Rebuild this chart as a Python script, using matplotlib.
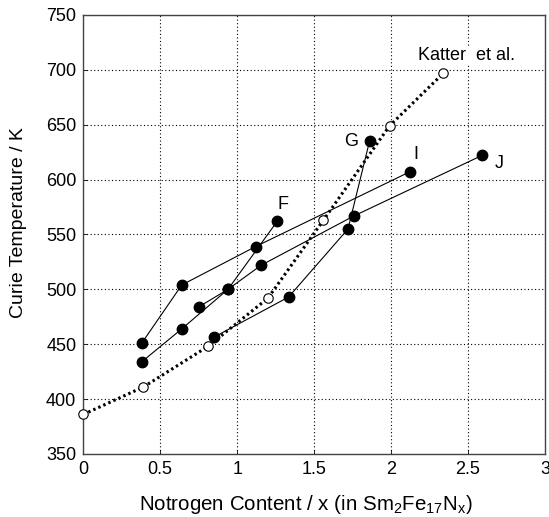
import matplotlib
matplotlib.use("Agg")
import matplotlib.pyplot as plt

plt.rcParams['font.family'] = ['Liberation Sans', 'DejaVu Sans']
plt.rcParams['mathtext.default'] = 'regular'

# Katter et al. (open circles, dotted line)
katter_x = [0.0, 0.39, 0.81, 1.20, 1.56, 1.99, 2.34]
katter_y = [386, 411, 448, 492, 563, 649, 697]

# Sample series (filled circles, thin lines)
F_x = [0.38, 0.64, 0.94, 1.26]
F_y = [434, 464, 500, 562]

G_x = [0.85, 1.334, 1.72, 1.86]
G_y = [456.5, 493, 555, 635]

I_x = [0.38, 0.64, 1.12, 2.12]
I_y = [451, 504, 539, 607]

J_x = [0.75, 0.94, 1.156, 1.76, 2.59]
J_y = [484, 500, 522, 567, 622]

series_names = ['F', 'G', 'I', 'J']
series_label_pos = {'F': (1.30, 577), 'G': (1.74, 635), 'I': (2.16, 623), 'J': (2.70, 615)}

xticks = [0, 0.5, 1, 1.5, 2, 2.5, 3]
xtick_labels = ['0', '0.5', '1', '1.5', '2', '2.5', '3']
yticks = [350, 400, 450, 500, 550, 600, 650, 700, 750]

fig = plt.figure(figsize=(5.49, 5.17), dpi=100)
ax = fig.add_axes([0.1517, 0.1219, 0.8410, 0.8491])

ax.set_xlim(0, 3)
ax.set_ylim(350, 750)

ax.grid(True, color='black', linestyle=(0, (1.0, 2.2)), linewidth=0.8)
ax.set_axisbelow(True)

for xs, ys in [(F_x, F_y), (G_x, G_y), (I_x, I_y), (J_x, J_y)]:
    ax.plot(xs, ys, color='black', linewidth=0.8, marker='o', markersize=7.5,
            markerfacecolor='black', markeredgecolor='black', zorder=3)

ax.plot(katter_x, katter_y, color='black', linewidth=2.2, linestyle=(0, (0.8, 1.0)),
        marker='o', markersize=6.8, markerfacecolor='white', markeredgecolor='black',
        markeredgewidth=0.8, zorder=4, clip_on=False)

for name in series_names:
    px, py = series_label_pos[name]
    ax.text(px, py, name, fontsize=13, ha='center', va='center', zorder=5)

ax.text(2.175, 713, 'Katter  et al.', fontsize=13, ha='left', va='center', zorder=5,
        bbox=dict(facecolor='white', edgecolor='none', pad=0.5))

ax.set_xticks(xticks)
ax.set_xticklabels(xtick_labels)
ax.set_yticks(yticks)
ax.tick_params(axis='both', direction='in', length=3, width=0.6, labelsize=13, pad=5)

for sp in ax.spines.values():
    sp.set_color('#444444')
    sp.set_linewidth(1.0)

fig.text(305.5 / 549, 0.0135, 'Notrogen Content / x (in Sm$_{2}$Fe$_{17}$N$_{x}$)',
         fontsize=14.8, ha='center', va='baseline')
fig.text(19 / 549, 0.569, 'Curie Temperature / K', fontsize=14, ha='center', va='center',
         rotation=90)

fig.savefig('out.png', dpi=100)
